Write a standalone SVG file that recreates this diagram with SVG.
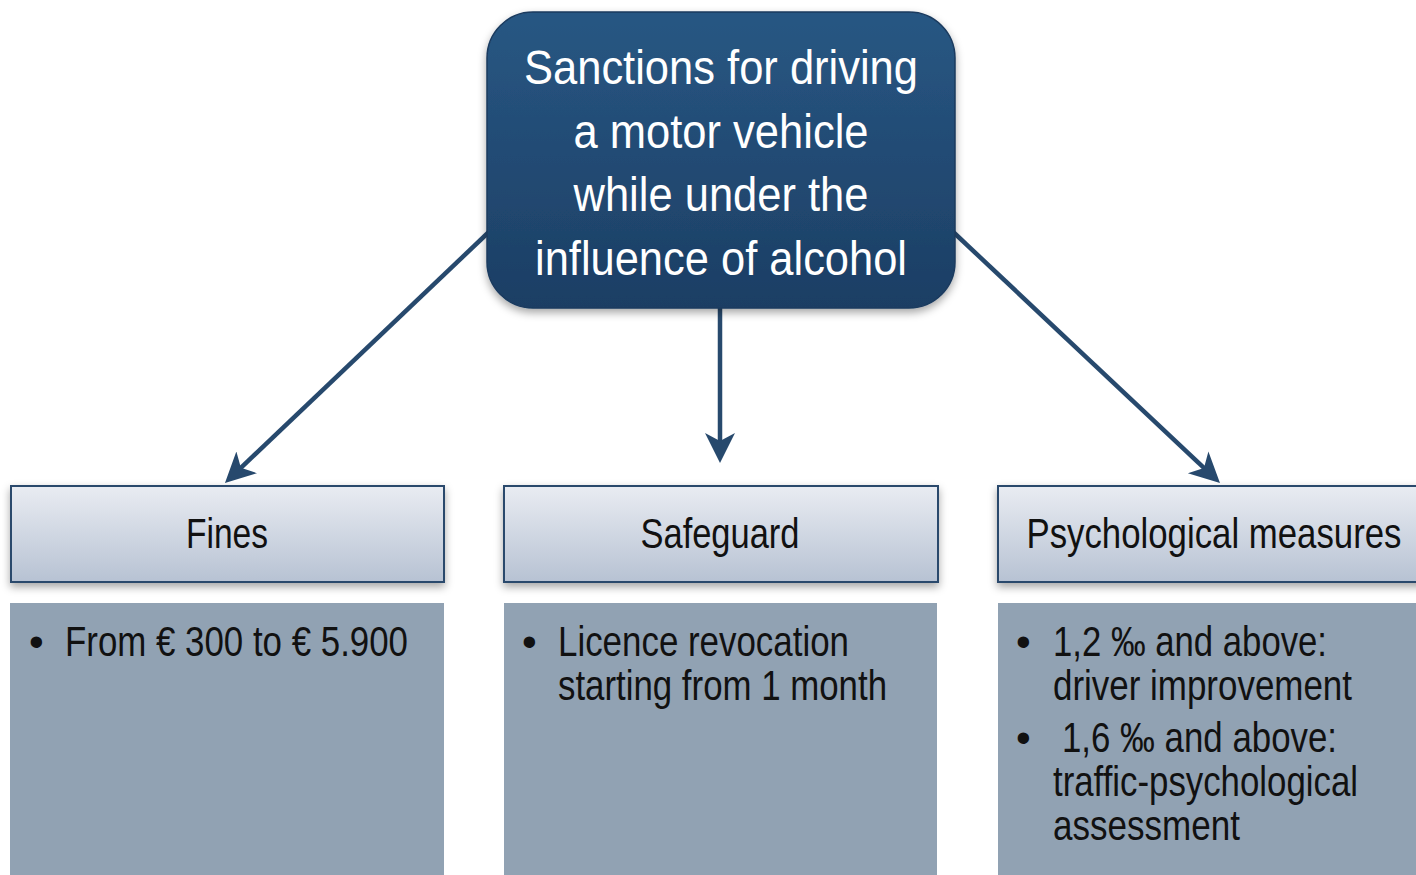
<svg xmlns="http://www.w3.org/2000/svg" width="1416" height="875" viewBox="0 0 1416 875">
<style>
.title{font-family:"Liberation Sans",Arial,sans-serif;font-size:48px;fill:#ffffff;text-anchor:middle}
.head{font-family:"Liberation Sans",Arial,sans-serif;font-size:42px;fill:#111111;text-anchor:middle}
.body{font-family:"Liberation Sans",Arial,sans-serif;font-size:42px;fill:#111111}
.hbox{fill:url(#hg);stroke:#2c4a6c;stroke-width:2}
.cbox{fill:#91a2b3}
.conn{stroke:#27496d;stroke-width:4.5;fill:none;marker-end:url(#ah)}
</style>
<defs>
<linearGradient id="mg" x1="0" y1="0" x2="0" y2="1">
<stop offset="0" stop-color="#285783"/>
<stop offset="1" stop-color="#1c3e64"/>
</linearGradient>
<linearGradient id="hg" x1="0" y1="0" x2="0" y2="1">
<stop offset="0" stop-color="#e9ecf2"/>
<stop offset="1" stop-color="#b7c2d3"/>
</linearGradient>
<filter id="sh" x="-10%" y="-10%" width="120%" height="130%">
<feDropShadow dx="0" dy="4" stdDeviation="4" flood-color="#000" flood-opacity="0.35"/>
</filter>
<marker id="ah" markerUnits="userSpaceOnUse" markerWidth="40" markerHeight="40" refX="20" refY="16" orient="auto">
<path d="M0,1 L30,16 L0,31 L8,16 Z" fill="#27496d"/>
</marker>
</defs>
<g id="connectors">
<line class="conn" x1="492" y1="229" x2="232.2" y2="476.1"/>
<line class="conn" x1="720" y1="300" x2="720" y2="453"/>
<line class="conn" x1="950" y1="229" x2="1212.7" y2="476.1"/>
</g>
<g id="main">
<rect x="487" y="12" width="468" height="296" rx="46" ry="46" fill="url(#mg)" stroke="#1a3a5e" stroke-width="1.5" filter="url(#sh)"/>
<text class="title" x="721" y="84" textLength="394" lengthAdjust="spacingAndGlyphs">Sanctions for driving</text>
<text class="title" x="721" y="148" textLength="295" lengthAdjust="spacingAndGlyphs">a motor vehicle</text>
<text class="title" x="721" y="211" textLength="295" lengthAdjust="spacingAndGlyphs">while under the</text>
<text class="title" x="721" y="275" textLength="372" lengthAdjust="spacingAndGlyphs">influence of alcohol</text>
</g>
<g id="fines">
<rect class="hbox" x="11" y="486" width="433" height="96" filter="url(#sh)"/>
<text class="head" x="227" y="548" textLength="82" lengthAdjust="spacingAndGlyphs">Fines</text>
</g>
<g id="fines-detail">
<rect class="cbox" x="10" y="603" width="434" height="272"/>
<text class="body" x="29" y="656">•</text>
<text class="body" x="65" y="656" textLength="343" lengthAdjust="spacingAndGlyphs">From € 300 to € 5.900</text>
</g>
<g id="safeguard">
<rect class="hbox" x="504" y="486" width="434" height="96" filter="url(#sh)"/>
<text class="head" x="720" y="548" textLength="159" lengthAdjust="spacingAndGlyphs">Safeguard</text>
</g>
<g id="safeguard-detail">
<rect class="cbox" x="504" y="603" width="433" height="272"/>
<text class="body" x="522" y="656">•</text>
<text class="body" x="558" y="656" textLength="291" lengthAdjust="spacingAndGlyphs">Licence revocation</text>
<text class="body" x="558" y="700" textLength="329" lengthAdjust="spacingAndGlyphs">starting from 1 month</text>
</g>
<g id="psych">
<rect class="hbox" x="998" y="486" width="430" height="96" filter="url(#sh)"/>
<text class="head" x="1214" y="548" textLength="375" lengthAdjust="spacingAndGlyphs">Psychological measures</text>
</g>
<g id="psych-detail">
<rect class="cbox" x="998" y="603" width="418" height="272"/>
<text class="body" x="1016" y="656">•</text>
<text class="body" x="1053" y="656" textLength="274" lengthAdjust="spacingAndGlyphs">1,2 ‰ and above:</text>
<text class="body" x="1053" y="700" textLength="299" lengthAdjust="spacingAndGlyphs">driver improvement</text>
<text class="body" x="1016" y="752">•</text>
<text class="body" x="1062" y="752" textLength="275" lengthAdjust="spacingAndGlyphs">1,6 ‰ and above:</text>
<text class="body" x="1053" y="796" textLength="305" lengthAdjust="spacingAndGlyphs">traffic-psychological</text>
<text class="body" x="1053" y="840" textLength="187" lengthAdjust="spacingAndGlyphs">assessment</text>
</g>
</svg>
